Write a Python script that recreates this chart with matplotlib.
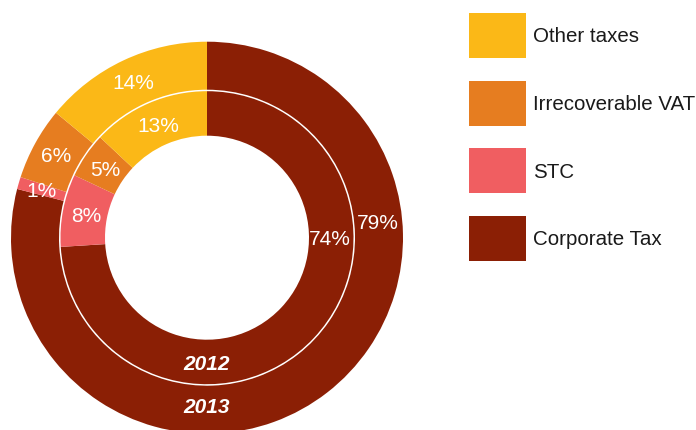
import numpy as np
import matplotlib
matplotlib.use("Agg")
import matplotlib.pyplot as plt
from matplotlib.patches import Rectangle

# Tax contribution split by type, two years as concentric rings
categories = ["Corporate Tax", "STC", "Irrecoverable VAT", "Other taxes"]
values_2013 = [79, 1, 6, 14]
values_2012 = [74, 8, 5, 13]
years = ["2013", "2012"]
colors = ["#8B1F05", "#F05E61", "#E67D20", "#FBB817"]

plt.rcParams["font.family"] = ["Liberation Sans", "DejaVu Sans"]

W, H = 696, 430
fig = plt.figure(figsize=(W / 100, H / 100), dpi=100)
ax = fig.add_axes([0, 0, 1, 1])
ax.set_xlim(0, W)
ax.set_ylim(0, H)
ax.set_aspect("equal")
ax.axis("off")

cx, cy = 207, H - 237.7
rings = [
    # (values, outer radius, width, label radius, year label radius)
    (values_2013, 196, 48, 172, 168),
    (values_2012, 146.5, 44.5, 123, 124.5),
]
# the dominant slice gets its label on the right side of the ring
big_label_angle = {"2013": 5.5, "2012": 0.0}
nudge = 1.8  # visual centring of digits (no descenders)

for (vals, r_out, w, r_lab, r_year), year in zip(rings, years):
    ax.pie(vals, radius=r_out, center=(cx, cy), startangle=90,
           counterclock=False, colors=colors,
           wedgeprops=dict(width=w, edgecolor="none", linewidth=0))
    total = sum(vals)
    start = 90.0
    for cat, v in zip(categories, vals):
        span = 360.0 * v / total
        mid = start - span / 2
        if cat == "Corporate Tax":
            mid = big_label_angle[year]
        start -= span
        a = np.deg2rad(mid)
        ax.text(cx + r_lab * np.cos(a), cy + r_lab * np.sin(a) - nudge, f"{v}%",
                color="white", fontsize=15, ha="center", va="center")
    ax.text(cx, cy - r_year - nudge, year, color="white", fontsize=15,
            fontweight="bold", fontstyle="italic", ha="center", va="center")

ax.set_xlim(0, W)
ax.set_ylim(0, H)

# legend: swatches stacked from the top, last category first
legend_order = categories[::-1]
for i, cat in enumerate(legend_order):
    top = 13 + i * 67.5
    y0 = H - top - 45
    ax.add_patch(Rectangle((469, y0), 57, 45, facecolor=colors[categories.index(cat)],
                           edgecolor="none"))
    ax.text(533, y0 + 22.5 - 1.5, cat, fontsize=14.8, color="#1a1a1a",
            ha="left", va="center")

fig.savefig("out.png", dpi=100)
